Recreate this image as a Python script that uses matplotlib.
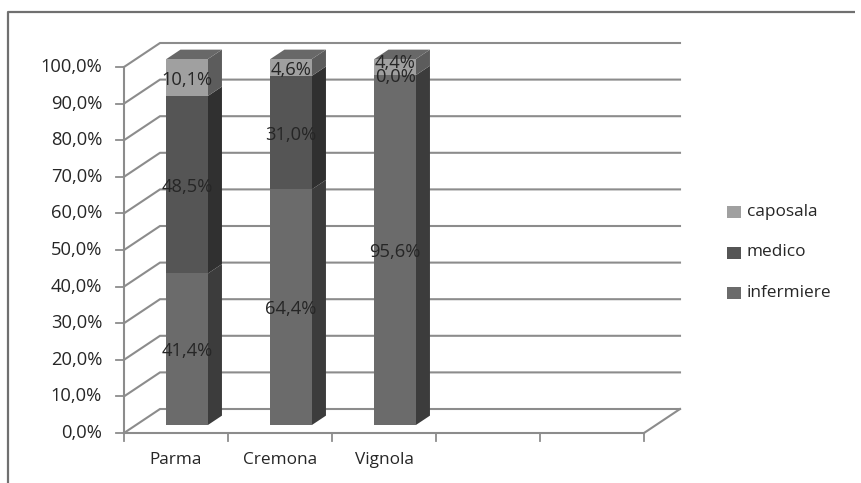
import matplotlib
matplotlib.use("Agg")
import matplotlib.pyplot as plt
from matplotlib.patches import Polygon, Rectangle

plt.rcParams["font.family"] = ["Open Sans", "DejaVu Sans"]

cities = ["Parma", "Cremona", "Vignola"]
infermiere = [41.4, 64.4, 95.6]
medico = [48.5, 31.0, 0.0]
caposala = [10.1, 4.6, 4.4]
percent_ticks = [0, 10, 20, 30, 40, 50, 60, 70, 80, 90, 100]
series_names = ["caposala", "medico", "infermiere"]

W, H = 861, 483
# px per category / per percent point of the front plane
cat_px = 104.0
pct_px = 3.66
x0_px, y0_px = 124.0, 433.0
n_slots = 5

# oblique depth of the fake 3d box, in data units
depth_x = 36.0 / cat_px
depth_y = 24.0 / pct_px

front_colors = {"infermiere": "#6b6b6b", "medico": "#555555", "caposala": "#a0a0a0"}
side_colors = {"infermiere": "#3c3c3c", "medico": "#303030", "caposala": "#5c5c5c"}
top_colors = {"infermiere": "#5a5a5a", "medico": "#4a4a4a", "caposala": "#686868"}
grid_color = "#8c8c8c"
text_color = "#262626"

fig = plt.figure(figsize=(W / 100, H / 100), dpi=100)
ax = fig.add_axes([0, 0, 1, 1])
ax.set_xlim(-x0_px / cat_px, (W - x0_px) / cat_px)
ax.set_ylim((y0_px - H) / pct_px, y0_px / pct_px)
ax.axis("off")


def oblique(x, y, d):
    return x + d * depth_x, y + d * depth_y


# outer chart frame
ax.plot([-116 / cat_px, -116 / cat_px, 731 / cat_px],
        [(y0_px - H) / pct_px, (y0_px - 12) / pct_px, (y0_px - 12) / pct_px],
        color="#707070", lw=1.6, solid_capstyle="butt", zorder=1)

# back wall gridlines plus the slanted bit on the side wall
for t in percent_ticks:
    bx, by = oblique(0, t, 1)
    ax.plot([0, bx, oblique(n_slots, t, 1)[0]], [t, by, by], color=grid_color, lw=1.5,
            solid_joinstyle="miter", zorder=2)
    ax.plot([-8 / cat_px, 0], [t, t], color=grid_color, lw=1.3, zorder=2)
    ax.text(-22 / cat_px, t, f"{t:.1f}%".replace(".", ","), ha="right", va="center",
            fontsize=13.2, color=text_color, zorder=6)

# floor front edge and the right slanted edge
ax.plot([0, n_slots], [0, 0], color=grid_color, lw=1.5, zorder=2)
ax.plot([n_slots, oblique(n_slots, 0, 1)[0]], [0, depth_y], color=grid_color, lw=1.5, zorder=2)
ax.plot([0, 0], [0, 100], color=grid_color, lw=1.5, zorder=2)
for i in range(n_slots + 1):
    ax.plot([i, i], [0, -8 / pct_px], color=grid_color, lw=1.3, zorder=2)

# stacked bars
bar_w = 41.5 / cat_px
d_start, d_span = 1 / 3, 0.39
stacks = [("infermiere", infermiere), ("medico", medico), ("caposala", caposala)]
label_nudge = {("Vignola", "caposala"): 1.6}

for i, city in enumerate(cities):
    xl, yb = oblique(i + 0.5 - bar_w / 2 - 0.008, 0, d_start)
    xr = xl + bar_w
    dx, dy = d_span * depth_x, d_span * depth_y
    bottom = 0.0
    for name, values in stacks:
        v = values[i]
        y1 = yb + bottom
        y2 = y1 + v
        ax.add_patch(Polygon([(xr, y1), (xr + dx, y1 + dy), (xr + dx, y2 + dy), (xr, y2)],
                             fc=side_colors[name], ec="none", zorder=3))
        ax.add_patch(Rectangle((xl, y1), bar_w, v, fc=front_colors[name], ec="none", zorder=4))
        ax.text(xl + bar_w / 2, (y1 + y2) / 2 - 0.6 + label_nudge.get((city, name), 0),
                f"{v:.1f}%".replace(".", ","), ha="center", va="center",
                fontsize=13.2, color=text_color, zorder=7)
        bottom += v
    # cap of the stack
    ax.add_patch(Polygon([(xl, yb + bottom), (xr, yb + bottom),
                          (xr + dx, yb + bottom + dy), (xl + dx, yb + bottom + dy)],
                         fc=top_colors["caposala"], ec="none", zorder=4))
    ax.text(i + 0.5, -28 / pct_px + 0.2, city, ha="center", va="center",
            fontsize=12.4, color=text_color, zorder=6)

# legend, hand placed so it sits level with the middle of the plot
legend_x = (727 - x0_px) / cat_px
for k, name in enumerate(series_names):
    yc = (y0_px - (212 + k * 40.5)) / pct_px
    ax.add_patch(Rectangle((legend_x, yc - 6 / pct_px), 14 / cat_px, 12 / pct_px,
                           fc=front_colors[name], ec="none", zorder=5))
    ax.text(legend_x + 20 / cat_px, yc, name, ha="left", va="center",
            fontsize=12.4, color=text_color, zorder=6)

fig.savefig("out.png", dpi=100)
